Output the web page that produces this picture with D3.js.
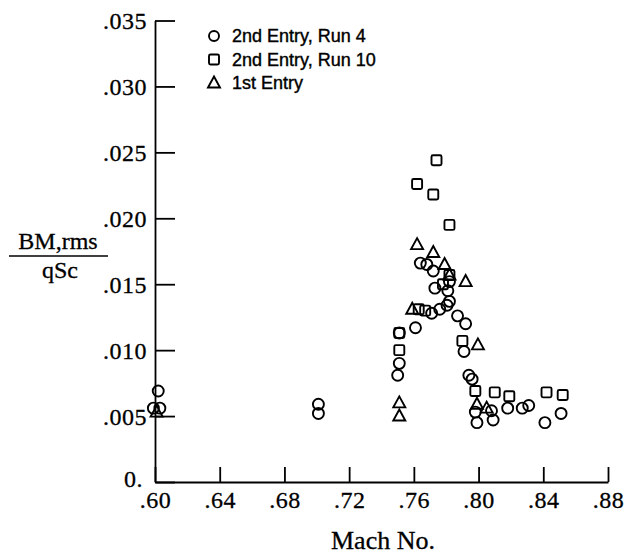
<!DOCTYPE html>
<html>
<head>
<meta charset="utf-8">
<script src="https://cdn.jsdelivr.net/npm/d3@7"></script>
<style>
  body { margin: 0; background: #fff; }
  svg { display: block; }
</style>
</head>
<body>
<div id="canvas"></div>
<script>
"use strict";

/* Chart data: [Mach No., BM,rms / qSc] */
let run4 = [
  [0.599, 0.0056], [0.602, 0.0069], [0.603, 0.0056],
  [0.701, 0.0059], [0.701, 0.0052],
  [0.751, 0.0113], [0.751, 0.0090], [0.750, 0.0081],
  [0.761, 0.0117],
  [0.764, 0.0166], [0.768, 0.0165], [0.772, 0.0160],
  [0.782, 0.0152], [0.781, 0.0145], [0.782, 0.0137], [0.773, 0.0147],
  [0.771, 0.0128], [0.776, 0.0131], [0.7805, 0.0134],
  [0.787, 0.0126], [0.792, 0.0120],
  [0.791, 0.0099],
  [0.794, 0.0081], [0.796, 0.0078],
  [0.798, 0.0053], [0.799, 0.0045], [0.808, 0.0054], [0.809, 0.0047],
  [0.818, 0.0056], [0.827, 0.0056], [0.831, 0.0058], [0.841, 0.0045], [0.851, 0.0052]
];

let run10 = [
  [0.751, 0.0113], [0.751, 0.0100],
  [0.762, 0.0226], [0.774, 0.0244], [0.772, 0.0218], [0.782, 0.0195],
  [0.763, 0.0131], [0.767, 0.0130],
  [0.778, 0.0150], [0.782, 0.0157],
  [0.790, 0.0107],
  [0.798, 0.0069], [0.810, 0.0068], [0.819, 0.0065], [0.842, 0.0068], [0.852, 0.0066]
];

let entry1 = [
  [0.601, 0.0053],
  [0.751, 0.0060], [0.751, 0.0050],
  [0.759, 0.0131],
  [0.762, 0.0180], [0.772, 0.0174], [0.779, 0.0165], [0.782, 0.0157], [0.792, 0.0152],
  [0.7996, 0.0104],
  [0.799, 0.0059], [0.805, 0.0056]
];

let xTicks = [0.60, 0.64, 0.68, 0.72, 0.76, 0.80, 0.84, 0.88];
let yTicks = [0, 0.005, 0.010, 0.015, 0.020, 0.025, 0.030, 0.035];
let legendNames = ["2nd Entry, Run 4", "2nd Entry, Run 10", "1st Entry"];

/* Layout */
let svgWidth = 624;
let svgHeight = 558;
let plotLeft = 155;
let plotRight = 608;
let plotTop = 20.5;
let plotBottom = 482;

let svg = d3.select("#canvas")
  .append("svg")
  .attr("width", svgWidth)
  .attr("height", svgHeight);

let xScale = d3.scaleLinear().domain([0.60, 0.88]).range([plotLeft, plotRight]);
let yScale = d3.scaleLinear().domain([0, 0.035]).range([plotBottom, plotTop]);

let serif = "'Liberation Serif', 'Times New Roman', serif";

/* Axes (ticks point inward) */
let xAxis = d3.axisBottom(xScale)
  .tickValues(xTicks)
  .tickSizeInner(-15)
  .tickSizeOuter(0)
  .tickPadding(9)
  .tickFormat(function (d) { return d3.format(".2f")(d).replace(/^0/, ""); });

let yAxis = d3.axisLeft(yScale)
  .tickValues(yTicks)
  .tickSizeInner(-20)
  .tickSizeOuter(0)
  .tickPadding(8)
  .tickFormat(function (d) { return d === 0 ? "0." : d3.format(".3f")(d).replace(/^0/, ""); });

let gx = svg.append("g")
  .attr("transform", "translate(0," + plotBottom + ")")
  .call(xAxis);

let gy = svg.append("g")
  .attr("transform", "translate(" + plotLeft + ",0)")
  .call(yAxis);

[gx, gy].forEach(function (g) {
  g.select(".domain").attr("stroke", "#000").attr("stroke-width", 1.8);
  g.selectAll(".tick line").attr("stroke", "#000").attr("stroke-width", 1.8);
  g.selectAll(".tick text")
    .attr("fill", "#000")
    .attr("stroke", "#000")
    .attr("stroke-width", 0.3)
    .style("font-family", serif)
    .style("font-size", "24px")
    .style("letter-spacing", "0.5px");
});
gy.selectAll(".tick text").attr("dy", function (d) { return d === 0 ? "0.2em" : "0.35em"; });
gy.selectAll(".tick text").filter(function (d) { return d === 0; }).attr("x", -12);

/* Axis titles */
svg.append("text")
  .attr("x", 383)
  .attr("y", 549)
  .attr("text-anchor", "middle")
  .attr("stroke", "#000")
  .attr("stroke-width", 0.3)
  .style("font-family", serif)
  .style("font-size", "26px")
  .text("Mach No.");

svg.append("text")
  .attr("x", 58)
  .attr("y", 249)
  .attr("text-anchor", "middle")
  .attr("stroke", "#000")
  .attr("stroke-width", 0.3)
  .style("font-family", serif)
  .style("font-size", "24px")
  .text("BM,rms");

svg.append("line")
  .attr("x1", 9).attr("x2", 108)
  .attr("y1", 256).attr("y2", 256)
  .attr("stroke", "#000")
  .attr("stroke-width", 1.6);

svg.append("text")
  .attr("x", 60)
  .attr("y", 278)
  .attr("text-anchor", "middle")
  .attr("stroke", "#000")
  .attr("stroke-width", 0.3)
  .style("font-family", serif)
  .style("font-size", "24px")
  .text("qSc");

/* Marker shapes */
let trianglePath = "M0,-6.5L6,4.5L-6,4.5Z";

function drawCircles(g, data) {
  g.selectAll("circle")
    .data(data)
    .join("circle")
    .attr("cx", function (d) { return xScale(d[0]); })
    .attr("cy", function (d) { return yScale(d[1]); })
    .attr("r", 5.5)
    .attr("fill", "none")
    .attr("stroke", "#000")
    .attr("stroke-width", 1.9);
}

function drawSquares(g, data) {
  g.selectAll("rect")
    .data(data)
    .join("rect")
    .attr("x", function (d) { return xScale(d[0]) - 5; })
    .attr("y", function (d) { return yScale(d[1]) - 5; })
    .attr("width", 10)
    .attr("height", 10)
    .attr("rx", 1.5)
    .attr("fill", "none")
    .attr("stroke", "#000")
    .attr("stroke-width", 1.9);
}

function drawTriangles(g, data) {
  g.selectAll("path")
    .data(data)
    .join("path")
    .attr("d", trianglePath)
    .attr("transform", function (d) {
      return "translate(" + xScale(d[0]) + "," + yScale(d[1]) + ")";
    })
    .attr("fill", "none")
    .attr("stroke", "#000")
    .attr("stroke-width", 1.9);
}

drawCircles(svg.append("g"), run4);
drawSquares(svg.append("g"), run10);
drawTriangles(svg.append("g"), entry1);

/* Legend */
let legendX = 214;
let legendY = 36;
let legendStep = 23.5;
let legend = svg.append("g");

legend.append("circle")
  .attr("cx", legendX).attr("cy", legendY).attr("r", 5)
  .attr("fill", "none").attr("stroke", "#000").attr("stroke-width", 1.9);
legend.append("rect")
  .attr("x", legendX - 5).attr("y", legendY + legendStep - 5)
  .attr("width", 10).attr("height", 10).attr("rx", 1.5)
  .attr("fill", "none").attr("stroke", "#000").attr("stroke-width", 1.9);
legend.append("path")
  .attr("d", trianglePath)
  .attr("transform", "translate(" + legendX + "," + (legendY + 2 * legendStep) + ")")
  .attr("fill", "none").attr("stroke", "#000").attr("stroke-width", 1.9);

legend.selectAll("text")
  .data(legendNames)
  .join("text")
  .attr("x", legendX + 18)
  .attr("y", function (d, i) { return legendY + i * legendStep; })
  .attr("dy", "0.35em")
  .attr("stroke", "#000")
  .attr("stroke-width", 0.4)
  .style("font-family", "'Liberation Sans', Arial, sans-serif")
  .style("font-size", "18px")
  .text(function (d) { return d; });
</script>
</body>
</html>
